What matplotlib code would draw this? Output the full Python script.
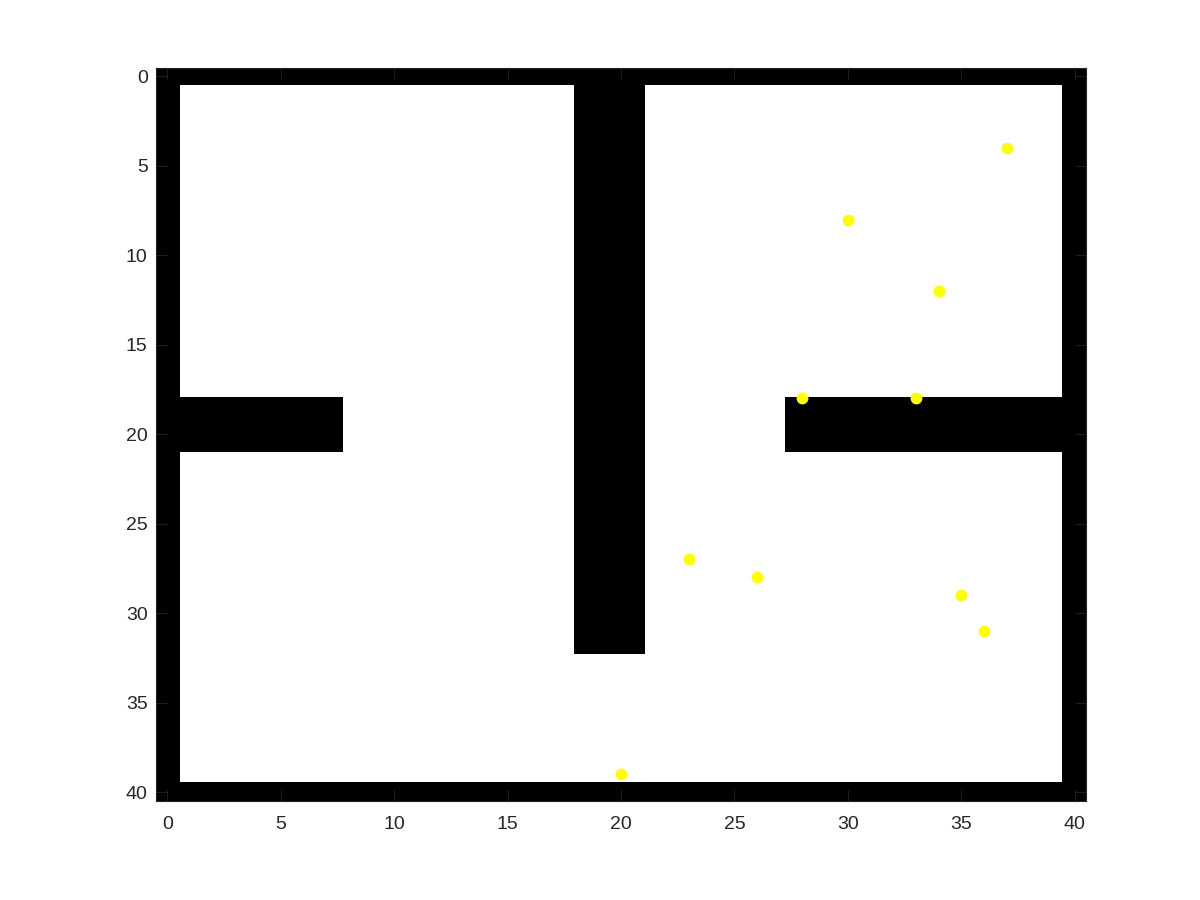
import numpy as np
import matplotlib.pyplot as plt

plt.rcParams['font.family'] = ['Liberation Sans', 'DejaVu Sans']

# walls of the map as (x0, x1, y0, y1) in map units
wall_x0 = [-0.5, 39.45, -0.5, -0.5, 17.95, -0.5, 27.25]
wall_x1 = [0.55, 40.5, 40.5, 40.5, 21.05, 7.75, 40.5]
wall_y0 = [-0.5, -0.5, -0.5, 39.45, -0.5, 17.95, 17.95]
wall_y1 = [40.5, 40.5, 0.5, 40.5, 32.3, 21.0, 21.0]

# yellow points (column, row)
pts_x = [37, 30, 34, 28, 33, 23, 26, 35, 36, 20]
pts_y = [4, 8, 12, 18, 18, 27, 28, 29, 31, 39]

ticks = list(range(0, 41, 5))

# rasterize the walls onto a fine occupancy grid
res = 0.05
centers = np.arange(-0.5 + res / 2, 40.5, res)
X, Y = np.meshgrid(centers, centers)
occ = np.zeros_like(X)
for x0, x1, y0, y1 in zip(wall_x0, wall_x1, wall_y0, wall_y1):
    occ[(X >= x0) & (X <= x1) & (Y >= y0) & (Y <= y1)] = 1

fig = plt.figure(figsize=(12, 9), dpi=100)
ax = fig.add_axes([0.13, 0.11, 0.775, 0.815])
ax.imshow(occ, cmap='gray_r', extent=(-0.5, 40.5, 40.5, -0.5),
          aspect='auto', interpolation='nearest', vmin=0, vmax=1)
ax.plot(pts_x, pts_y, 'o', color=(1, 1, 0), markersize=8.5, markeredgewidth=0)

ax.set_xlim(-0.5, 40.5)
ax.set_ylim(40.5, -0.5)
ax.set_xticks(ticks)
ax.set_yticks(ticks)
gray = (0.15, 0.15, 0.15)
ax.tick_params(direction='in', top=True, right=True, length=8, width=0.6,
               color=gray, labelcolor=gray, labelsize=14)
ax.tick_params(axis='x', pad=11)
ax.tick_params(axis='y', pad=6)
for s in ax.spines.values():
    s.set_color(gray)
    s.set_linewidth(0.8)

fig.savefig('out.png', dpi=100)
